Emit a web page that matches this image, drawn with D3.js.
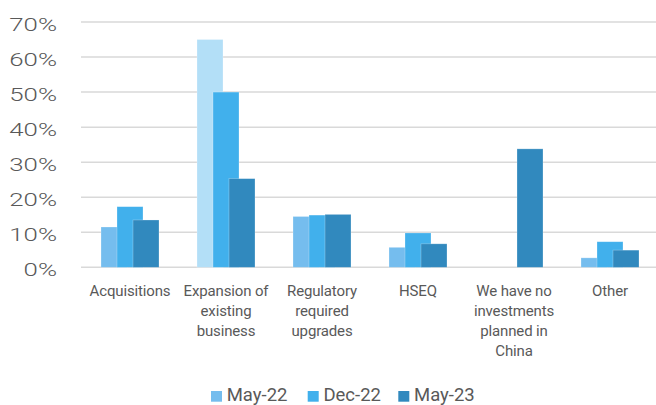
<!DOCTYPE html>
<html>
<head>
<meta charset="utf-8">
<script src="https://cdn.jsdelivr.net/npm/d3@7"></script>
<style>
  html, body { margin: 0; padding: 0; background: #fff; }
  svg { display: block; font-family: Roboto, "Liberation Sans", sans-serif; }
</style>
</head>
<body>
<div id="chart"></div>
<script>
// Planned investment areas, share of respondents
const categories = [
  ["Acquisitions"],
  ["Expansion of", "existing", "business"],
  ["Regulatory", "required", "upgrades"],
  ["HSEQ"],
  ["We have no", "investments", "planned in", "China"],
  ["Other"]
];
const seriesNames = ["May-22", "Dec-22", "May-23"];
const may22 = [0.115, 0.65, 0.145, 0.057, null, 0.027];
const dec22 = [0.173, 0.50, 0.149, 0.098, null, 0.073];
const may23 = [0.135, 0.253, 0.151, 0.067, 0.338, 0.049];
const yTicks = [0, 0.1, 0.2, 0.3, 0.4, 0.5, 0.6, 0.7];

const colors = ["#75bdee", "#41b0ec", "#3189be"];
const highlight = { series: 0, index: 1, color: "#b3dff7" };

const W = 656, H = 405;
const plotLeft = 81, plotTop = 22, plotBottom = 267.3;
const svg = d3.select("#chart").append("svg").attr("width", W).attr("height", H);

const x = d3.scaleBand().domain(d3.range(categories.length)).range([82, 658]);
const y = d3.scaleLinear().domain([0, 0.7]).range([plotBottom, plotTop]);

// gridlines
svg.append("g").selectAll("line").data(yTicks).join("line")
  .attr("x1", plotLeft).attr("x2", W)
  .attr("y1", d => y(d)).attr("y2", d => y(d))
  .attr("stroke", "#d9d9d9").attr("stroke-width", 1.5);

// y axis labels (wide face, stretched horizontally)
const fmt = d3.format(".0%");
svg.append("g").selectAll("text").data(yTicks).join("text")
  .attr("transform", d => `translate(57,${y(d) + 8.7}) scale(1.36,1)`)
  .attr("text-anchor", "end")
  .attr("font-size", 19)
  .attr("font-weight", 300)
  .attr("fill", "#595959")
  .text(d => fmt(d));

// grouped bars: offset step and overlapping width
const step = 16, barW = 26;
const groupW = step * 2 + barW;
const series = [may22, dec22, may23];
series.forEach((vals, s) => {
  svg.append("g").selectAll("rect")
    .data(vals.map((v, i) => ({ v, i })).filter(d => d.v != null))
    .join("rect")
    .attr("x", d => x(d.i) + (x.bandwidth() - groupW) / 2 + s * step)
    .attr("width", barW)
    .attr("y", d => y(d.v))
    .attr("height", d => y(0) - y(d.v))
    .attr("fill", d => (s === highlight.series && d.i === highlight.index) ? highlight.color : colors[s])
    .attr("stroke", "#ffffff").attr("stroke-opacity", 0.35).attr("stroke-width", 0.7);
});

// category labels
const cat = svg.append("g").selectAll("text").data(categories).join("text")
  .attr("x", (d, i) => x(i) + x.bandwidth() / 2)
  .attr("y", 295.7)
  .attr("text-anchor", "middle")
  .attr("font-size", 15)
  .attr("letter-spacing", -0.15)
  .attr("fill", "#595959");
cat.selectAll("tspan").data(d => d).join("tspan")
  .attr("x", function () { return this.parentNode.getAttribute("x"); })
  .attr("dy", (d, i) => i === 0 ? 0 : 20)
  .text(d => d);

// legend
const legendX = [211, 307.7, 398.3];
const lg = svg.append("g").selectAll("g").data(seriesNames).join("g")
  .attr("transform", (d, i) => `translate(${legendX[i]},0)`);
lg.append("rect").attr("x", 0).attr("y", 391).attr("width", 11).attr("height", 10.7)
  .attr("fill", (d, i) => colors[i]);
lg.append("text").attr("x", 15.7).attr("y", 401.2).attr("font-size", 18.5)
  .attr("fill", "#595959").text(d => d);
</script>
</body>
</html>
